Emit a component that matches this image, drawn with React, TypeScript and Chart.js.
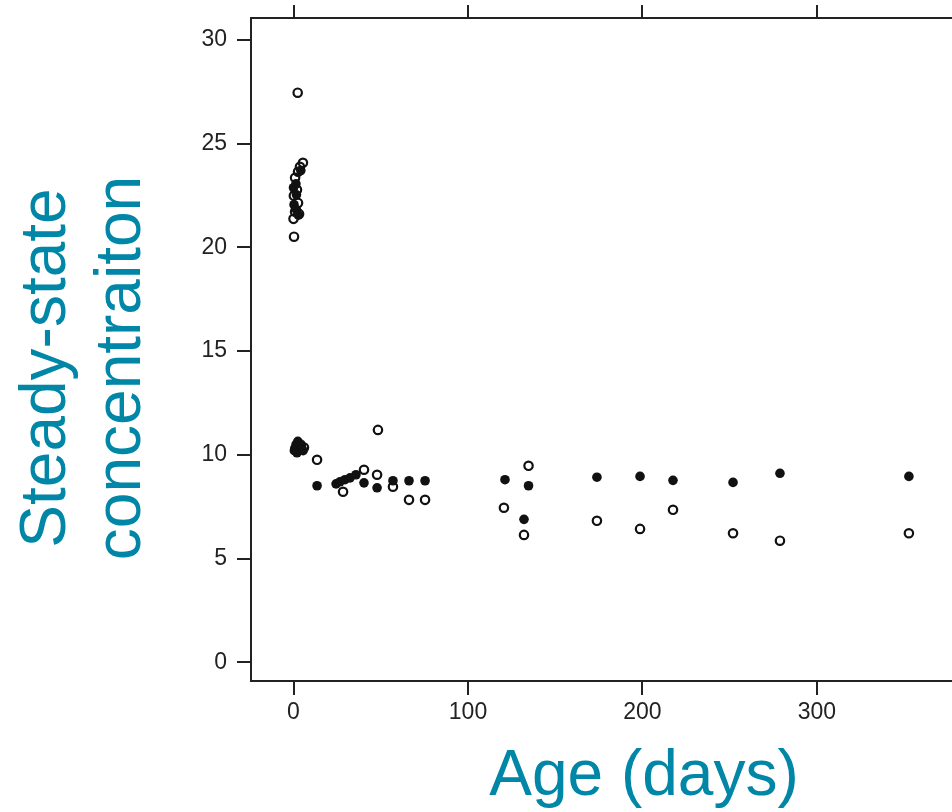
import React, { useEffect, useRef } from "react";
import { Chart, registerables } from "chart.js";

Chart.register(...registerables);

// ---- data ----
const FILLED_AGE = [1.4, 0, 1.7, 0.3, 1.7, 2.8, 4.2, 0.5, 1.5, 3, 4.5, 2, 5.5, 2.5, 13.5, 24.4, 26.6, 29.5, 32.4, 35.8, 40.4, 47.9, 57, 66.2, 75.4, 121.2, 134.7, 132.1, 173.9, 198.6, 217.5, 251.9, 278.8, 352.7];
const FILLED_CONC = [23.06, 22.87, 22.53, 22.05, 21.81, 21.55, 23.7, 10.2, 10.5, 10.3, 10.4, 10.1, 10.2, 10.65, 8.51, 8.6, 8.7, 8.8, 8.89, 9.04, 8.65, 8.41, 8.75, 8.75, 8.75, 8.8, 8.51, 6.89, 8.92, 8.96, 8.77, 8.67, 9.11, 8.96];
const OPEN_AGE = [2.4, 5.4, 3.7, 2.6, 0.9, 2, 0.2, 2.6, 0.9, 3.2, 0, 0.3, 1, 4, 6, 13.5, 48.4, 28.4, 40.4, 47.9, 57, 66.2, 75.4, 120.6, 134.7, 132.1, 173.9, 198.6, 217.5, 251.9, 278.8, 352.7];
const OPEN_CONC = [27.45, 24.07, 23.88, 23.64, 23.35, 22.77, 22.48, 22.14, 21.71, 21.61, 21.37, 20.51, 10.3, 10.5, 10.35, 9.76, 11.2, 8.22, 9.28, 9.04, 8.46, 7.83, 7.83, 7.45, 9.47, 6.14, 6.82, 6.43, 7.35, 6.22, 5.86, 6.22];
const X_TICKS = [0, 100, 200, 300];
const Y_TICKS = [0, 5, 10, 15, 20, 25, 30];
const X_RANGE = [-24.36, 377.4];
const Y_RANGE = [-0.9, 31.05];
const X_TITLE = "Age (days)";
const Y_TITLE = ["Steady-state", "concentraiton"];

const INK = "#222222";
const TITLE_COLOR = "#0086a6";
const TICK_FONT = { family: '"Liberation Sans", Arial, sans-serif', size: 23 };

const titlePlugin = {
  id: "axisTitles",
  afterDraw(chart: any) {
    const ctx = chart.ctx;
    ctx.save();
    ctx.fillStyle = TITLE_COLOR;
    ctx.font = '64px "Liberation Sans", Arial, sans-serif';
    ctx.textAlign = "center";
    ctx.textBaseline = "alphabetic";
    ctx.fillText(X_TITLE, 644, 795);
    ctx.translate(65, 368);
    ctx.rotate(-Math.PI / 2);
    ctx.fillText(Y_TITLE[0], 0, 0);
    ctx.fillText(Y_TITLE[1], 0, 75);
    ctx.restore();
  },
};

export default function App() {
  const ref = useRef<HTMLCanvasElement>(null);
  useEffect(() => {
    if (!ref.current) return;
    const toPts = (xs: number[], ys: number[]) => xs.map((x, i) => ({ x, y: ys[i] }));
    const setX = (s: any) => { s.ticks = X_TICKS.map((v) => ({ value: v })); };
    const setY = (s: any) => { s.ticks = Y_TICKS.map((v) => ({ value: v })); };
    const chart = new Chart(ref.current, {
      type: "scatter",
      data: {
        datasets: [
          {
            label: "filled",
            data: toPts(FILLED_AGE, FILLED_CONC),
            backgroundColor: "#111",
            borderColor: "#111",
            borderWidth: 0,
            pointRadius: 4.8,
          },
          {
            label: "open",
            data: toPts(OPEN_AGE, OPEN_CONC),
            backgroundColor: "rgba(0,0,0,0)",
            borderColor: "#111",
            borderWidth: 2.2,
            pointRadius: 4.2,
          },
        ],
      },
      options: {
        responsive: false,
        devicePixelRatio: 1,
        animation: false,
        layout: { padding: 0, autoPadding: false },
        plugins: { legend: { display: false }, tooltip: { enabled: false } },
        scales: {
          x: {
            type: "linear",
            position: "bottom",
            min: X_RANGE[0],
            max: X_RANGE[1],
            afterBuildTicks: setX,
            afterFit: (s: any) => { s.height = 131; s.paddingLeft = 0; s.paddingRight = 0; },
            grid: { drawOnChartArea: false, drawTicks: true, tickLength: 14, color: INK, lineWidth: 2 },
            border: { display: true, color: INK, width: 2 },
            ticks: { font: TICK_FONT, color: INK, padding: 4, maxRotation: 0, autoSkip: false },
          },
          x2: {
            type: "linear",
            position: "top",
            min: X_RANGE[0],
            max: X_RANGE[1],
            afterBuildTicks: setX,
            afterFit: (s: any) => { s.height = 18; s.paddingLeft = 0; s.paddingRight = 0; },
            grid: { drawOnChartArea: false, drawTicks: true, tickLength: 13, color: INK, lineWidth: 2 },
            border: { display: true, color: INK, width: 2 },
            ticks: { display: true, color: "rgba(0,0,0,0)", font: TICK_FONT, padding: 0, autoSkip: false },
          },
          y: {
            type: "linear",
            position: "left",
            min: Y_RANGE[0],
            max: Y_RANGE[1],
            afterBuildTicks: setY,
            afterFit: (s: any) => { s.width = 251; s.paddingTop = 0; s.paddingBottom = 0; },
            grid: { drawOnChartArea: false, drawTicks: true, tickLength: 14, color: INK, lineWidth: 2 },
            border: { display: true, color: INK, width: 2 },
            ticks: { font: TICK_FONT, color: INK, padding: 10, autoSkip: false },
          },
        },
      },
      plugins: [titlePlugin],
    } as any);
    return () => chart.destroy();
  }, []);
  return (
    <div style={{ position: "fixed", left: 0, top: 0, width: 952, height: 812, background: "#fff", overflow: "hidden" }}>
      <canvas ref={ref} width={952} height={812} style={{ width: 952, height: 812, display: "block" }} />
    </div>
  );
}
